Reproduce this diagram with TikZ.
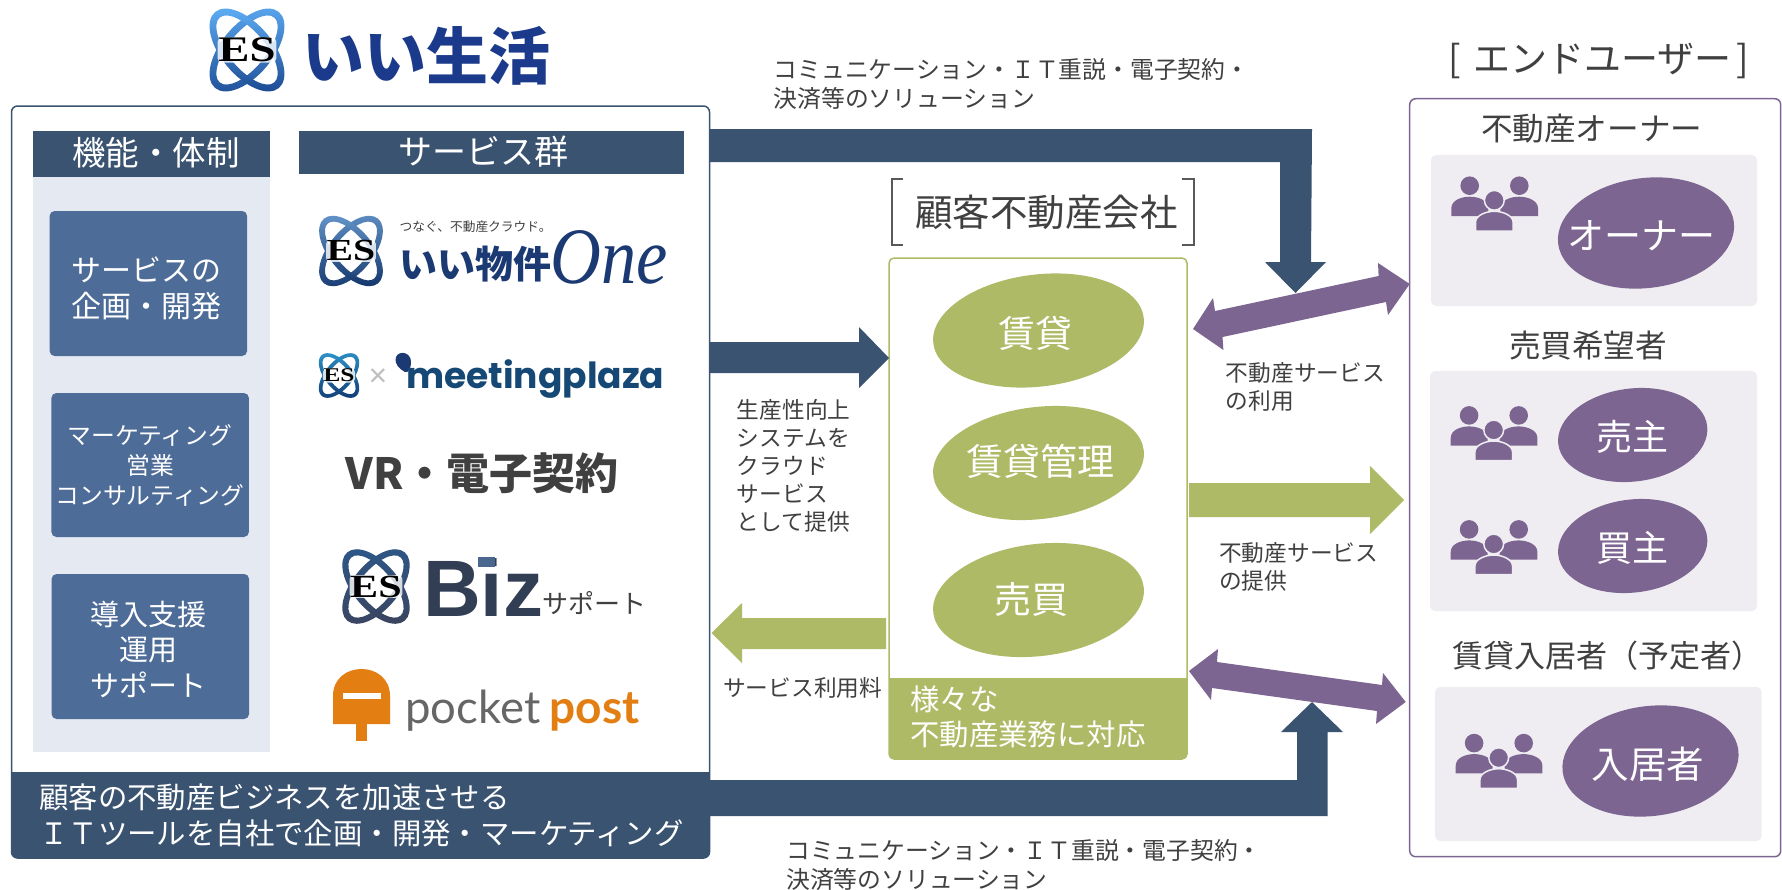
\documentclass[tikz,border=0pt]{standalone}
\usepackage{fontspec}
\usetikzlibrary{shapes.geometric,calc}
\setmainfont{Noto Sans CJK JP}
\newfontfamily\serifes{Liberation Serif}
\newfontfamily\sanslogo{Liberation Sans}
\newfontfamily\latologo{Lato}
\newfontfamily\popplogo{Poppins}
\newcommand\fz[2]{\fontsize{#1}{#2}\selectfont}
\definecolor{navy}{HTML}{3A5371}
\definecolor{boxblue}{HTML}{4D6C97}
\definecolor{pale}{HTML}{E5E9F1}
\definecolor{leaf}{HTML}{AEBA66}
\definecolor{plum}{HTML}{7D6591}
\definecolor{lilac}{HTML}{EFEDF2}
\definecolor{ink}{HTML}{404040}
\definecolor{logoblue}{HTML}{1B3A8C}
\definecolor{onenavy}{HTML}{1B3A73}
\definecolor{postorange}{HTML}{E37E13}
\tikzset{
  rect/.style={rectangle,inner sep=0pt,outer sep=0pt,anchor=north west},
  head/.style={rect,fill=navy},
  bluebox/.style={rect,fill=boxblue,rounded corners=5pt},
  panel/.style={rect,fill=lilac,rounded corners=5pt},
  egg/.style={ellipse,inner sep=0pt,outer sep=0pt,rotate=7},
  leafegg/.style={egg,fill=leaf,minimum width=212pt,minimum height=112pt},
  plumegg/.style={egg,fill=plum},
  wt/.style={text=white,inner sep=0pt,align=center},
  it/.style={text=ink,inner sep=0pt,align=center},
  lt/.style={text=ink,inner sep=0pt,anchor=west,align=left,font=\fz{22.7}{28}},
  longl/.style={text=ink,inner sep=0pt,anchor=west,align=left,font=\fz{23.8}{29}},
  peopleicon/.pic={
    \fill[plum] (-24.6,-14.6) circle[radius=9.3];
    \fill[plum] (25,-14.6) circle[radius=9.3];
    \fill[plum] (-43,15.7) -- (-43,8) .. controls (-43,0) and (-33,-3.6) .. (-24.6,-3.6)
       .. controls (-16,-3.6) and (-6,0) .. (-6,8) -- (-6,15.7) -- cycle;
    \fill[plum] (43.7,15.7) -- (43.7,8) .. controls (43.7,0) and (33,-3.6) .. (25,-3.6)
       .. controls (16,-3.6) and (6,0) .. (6,8) -- (6,15.7) -- cycle;
    \filldraw[fill=plum,draw=lilac,line width=1.5pt] (0,0) circle[radius=9.9];
    \filldraw[fill=plum,draw=lilac,line width=1.5pt] (-18.8,30.7) -- (-18.8,22)
       .. controls (-18.8,15) and (-8,11) .. (0,11) .. controls (8,11) and (18.8,15) .. (18.8,22)
       -- (18.8,30.7) -- cycle;
  }
}
% emblem: name, x, y, scale, light, dark
\newcommand\esmark[6]{%
  \definecolor{esl}{HTML}{#5}\definecolor{esd}{HTML}{#6}%
  \begin{scope}[shift={(#2,#3)}]
    \pgfmathsetmacro\ra{46*#4}\pgfmathsetmacro\rb{22*#4}\pgfmathsetmacro\rt{3.6*#4}
    \pgfmathsetmacro\esz{36*#4}
    \foreach \ang in {50,-50}{
      \shade[top color=esl,bottom color=esd,even odd rule,rotate=\ang]
        (0,0) ellipse[x radius=\ra+\rt,y radius=\rb+\rt]
        (0,0) ellipse[x radius=\ra-\rt,y radius=\rb-\rt];
    }
    \node[inner sep=0.5pt,rounded corners=4pt,fill=white,fill opacity=.8,text opacity=1,text=black,xscale=1.3,
      font=\serifes\bfseries\fontsize{\esz}{\esz}\selectfont] (#1) at (0,0) {ES};
  \end{scope}}
\begin{document}
\begin{tikzpicture}[x=1pt,y=-1pt]
\useasboundingbox[fill=white] (0,0) rectangle (1782,889);

%% --- left company block
\node[rect,draw=navy,line width=1.5pt,fill=white,rounded corners=6pt,minimum width=698pt,minimum height=752pt] (esbox) at (11.5,106) {};
\fill[navy] (esbox.south west |- 0,772) {[rounded corners=6pt] -- (esbox.south west) -- (esbox.south east)} -- (esbox.south east |- 0,772) -- cycle;
\node[wt,anchor=west,align=left,font=\fz{29.4}{35.5}] (esband) at (39,815.5) {顧客の不動産ビジネスを加速させる\\ＩＴツールを自社で企画・開発・マーケティング};

\node[rect,fill=pale,minimum width=237pt,minimum height=575pt] (funcpanel) at (33,177) {};
\node[head,minimum width=237pt,minimum height=46pt] (funchead) at (33,131) {};
\node[wt,font=\fz{33.5}{38}] (functxt) at (156,153) {機能・体制};
\node[head,minimum width=385pt,minimum height=43pt] (svchead) at (299,131) {};
\node[wt,font=\fz{34}{38}] (svctxt) at (483,152) {サービス群};

\node[bluebox,minimum width=197.5pt,minimum height=145pt] (b1) at (49.6,211) {};
\node[wt,font=\fz{30}{36}] (b1t) at (146.5,288) {サービスの\\企画・開発};
\node[bluebox,minimum width=197.5pt,minimum height=144pt] (b2) at (51.4,393) {};
\node[wt,font=\fz{23.8}{30}] (b2t) at (150,465) {マーケティング\\営業\\コンサルティング};
\node[bluebox,minimum width=197.5pt,minimum height=145pt] (b3) at (51.6,574) {};
\node[wt,font=\fz{29}{35.5}] (b3t) at (148,649) {導入支援\\運用\\サポート};

%% --- logos
\esmark{lg0}{247}{50}{1}{5AA8F0}{1F4F96}
\node[text=logoblue,inner sep=0pt,font=\bfseries\fz{62}{62}] (ltitle) at (426.5,56) {いい生活};

\esmark{lg1}{351}{251}{.85}{5F8FC4}{173A70}
\node[text=ink,inner sep=0pt,anchor=west,font=\fz{12.7}{14}] (ltag) at (399.5,227) {つなぐ、不動産クラウド。};
\node[text=onenavy,inner sep=0pt,anchor=west,font=\bfseries\fz{38}{38}] (lone) at (399.5,264) {いい物件};
\node[text=onenavy,inner sep=0pt,anchor=base west,xscale=.88,font=\serifes\itshape\fz{80}{80}] (lonee) at (550,283) {One};

\esmark{lg2}{339}{375.5}{.54}{2C8FC4}{123F78}
\node[text=black!25,inner sep=0pt,font=\sanslogo\fz{32}{32}] (lx) at (378,377.5) {×};
\fill[onenavy] (396,357) .. controls (399,350) and (411,352) .. (411,362) .. controls (411,368) and (409,373) .. (405,372) .. controls (400,369) and (394,365) .. (396,357) -- cycle;
\node[text=onenavy!80!teal,inner sep=0pt,anchor=base west,font=\popplogo\bfseries\fz{36}{36}] (lmeet) at (406,388) {meetingplaza};

\node[text=ink,inner sep=0pt,font=\bfseries\fz{43}{43}] (lvr) at (482,473) {VR・電子契約};

\esmark{lg3}{376}{586.5}{.9}{2E5686}{3A4560}
\node[text=onenavy!40!ink,inner sep=0pt,anchor=base west,font=\sanslogo\bfseries\fz{80}{80}] (lbiz) at (423,616.5) {Biz};
\fill[boxblue!80!navy] (477.5,557) rectangle (494.5,566.7);
\node[text=ink,inner sep=0pt,anchor=west,font=\fz{26}{26}] (lsup) at (541.8,603) {サポート};

\fill[postorange] (333,724) -- (333,696) .. controls (333,660) and (390,660) .. (390,696) -- (390,724) -- cycle;
\fill[postorange] (356,724) rectangle (367,740.7);
\fill[white] (342.5,693) rectangle (381,699);
\node[text=black!60,inner sep=0pt,anchor=base west,font=\latologo\fz{45.5}{45}] (lpk) at (405,723) {pocket};
\node[text=postorange,inner sep=0pt,anchor=base west,font=\latologo\bfseries\fz{46}{46}] (lpt) at (549.6,723) {post};

%% --- customer block
\node[rect,draw=leaf,line width=1.5pt,fill=white,rounded corners=5pt,minimum width=298pt,minimum height=501pt] (custbox) at (889,258) {};
\fill[leaf] (custbox.south west |- 0,678) {[rounded corners=5pt] -- (custbox.south west) -- (custbox.south east)} -- (custbox.south east |- 0,678) -- cycle;
\node[wt,anchor=west,align=left,font=\fz{29.4}{35}] (custband) at (910,716.5) {様々な\\不動産業務に対応};
\node[leafegg] (e1) at (1038.5,330.5) {};
\node[wt,font=\fz{37}{37}] (e1t) at (1035,333) {賃貸};
\node[leafegg] (e2) at (1038.5,463) {};
\node[wt,font=\fz{37}{37}] (e2t) at (1040.7,461) {賃貸管理};
\node[leafegg] (e3) at (1038.5,600) {};
\node[wt,font=\fz{37}{37}] (e3t) at (1031.5,599) {売買};
\node[it,font=\fz{37.5}{37}] (custt) at (1046.5,212) {顧客不動産会社};
\draw[black!65,line width=2pt] (903,179) coordinate (bl1) -- ++(-11.5,0) -- ++(0,66) -- ++(11.5,0);
\draw[black!65,line width=2pt] (1182,179) coordinate (br1) -- ++(11.5,0) -- ++(0,66) -- ++(-11.5,0);

%% --- user block
\node[rect,draw=plum,line width=1.5pt,fill=white,rounded corners=6pt,minimum width=371pt,minimum height=758pt] (userbox) at (1409.7,98.7) {};
\node[it,font=\fz{37}{37}] (usert) at (1599,61) {[\hspace{12pt}エンドユーザー\hspace{5pt}]};
\node[it,font=\fz{31.6}{34}] (u1t) at (1591.7,129) {不動産オーナー};
\node[panel,minimum width=326pt,minimum height=151pt] (p1) at (1431,155) {};
\node[it,font=\fz{31.6}{34}] (u2t) at (1588,346) {売買希望者};
\node[panel,minimum width=327pt,minimum height=240pt] (p2) at (1430,371) {};
\node[it,anchor=west,font=\fz{31}{34}] (u3t) at (1452,655.7) {賃貸入居者（予定者）};
\node[panel,minimum width=326.7pt,minimum height=154pt] (p3) at (1435,687) {};
\node[plumegg,minimum width=177pt,minimum height=110pt] (o1) at (1646,233) {};
\node[wt,font=\fz{37}{37}] (o1t) at (1641.7,236) {オーナー};
\node[plumegg,minimum width=150pt,minimum height=93pt] (o2) at (1632.7,435) {};
\node[wt,font=\fz{36}{36}] (o2t) at (1632,437) {売主};
\node[plumegg,minimum width=150pt,minimum height=93pt] (o3) at (1632.7,546) {};
\node[wt,font=\fz{36}{36}] (o3t) at (1632,548) {買主};
\node[plumegg,minimum width=177pt,minimum height=110pt] (o4) at (1650.5,761) {};
\node[wt,font=\fz{37.5}{37}] (o4t) at (1648,764) {入居者};
\pic at (1494.3,200.3) {peopleicon};
\pic at (1493.7,430) {peopleicon};
\pic at (1493.7,544) {peopleicon};
\pic at (1498.7,757.7) {peopleicon};

%% --- block arrows
\fill[navy] (esbox.east |- 0,129) -- (1312,129) -- (1311,262) -- (1326,262) -- (1295.5,293) -- (1265,262) -- (1280,262) -- (1280,162) -- (esbox.east |- 0,162) -- cycle;
\fill[navy] (esbox.east |- 0,780) -- (1297,780) -- (1297,732) -- (1281,732) -- (1312,702) -- (1343,732) -- (1327.6,732) -- (1327.6,816) -- (esbox.east |- 0,816) -- cycle;
\fill[navy] (esbox.east |- 0,342) -- (859,342) -- (859,327) -- (custbox.west |- 0,358) -- (859,388) -- (859,373) -- (esbox.east |- 0,373) -- cycle;
\fill[leaf] (1189,483) -- (1370,483) -- (1370,466) -- (1404,500) -- (1370,534) -- (1370,517) -- (1189,517) -- cycle;
\fill[leaf] (886,618) -- (742,618) -- (742,603) -- (711.5,633) -- (742,663) -- (742,649) -- (886,649) -- cycle;
\fill[plum] (1193,329) -- (1213,298) -- (1215,311) -- (1378.6,276) -- (1378,263) -- (userbox.west |- 0,284) -- (1388,315) -- (1386,302) -- (1222.5,337) -- (1223.4,350) -- cycle;
\fill[plum] (1189,671) -- (1218,649) -- (1217,662) -- (1382,685) -- (1383,673) -- (1405.7,702) -- (1376,724) -- (1377,711) -- (1212,688) -- (1211,700) -- cycle;

%% --- labels
\node[longl] (lb1) at (773.5,84.5) {コミュニケーション・ＩＴ重説・電子契約・\\決済等のソリューション};
\node[longl] (lb2) at (786,865) {コミュニケーション・ＩＴ重説・電子契約・\\決済等のソリューション};
\node[lt] (lb3) at (1225.7,387) {不動産サービス\\の利用};
\node[lt] (lb4) at (1219,567) {不動産サービス\\の提供};
\node[lt] (lb5) at (736.7,465.5) {生産性向上\\システムを\\クラウド\\サービス\\として提供};
\node[lt] (lb6) at (723,688) {サービス利用料};
\end{tikzpicture}
\end{document}
